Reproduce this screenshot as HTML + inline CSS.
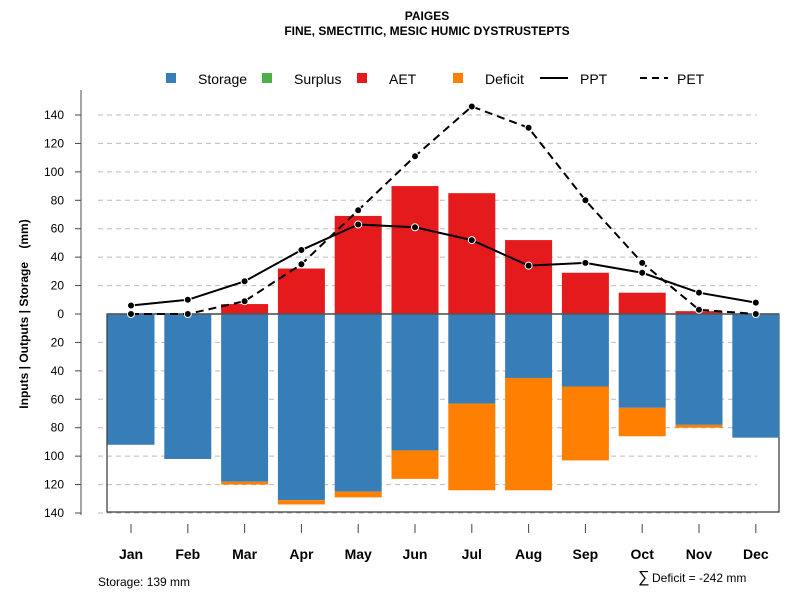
<!DOCTYPE html>
<html><head><meta charset="utf-8"><style>
body{margin:0;background:#fff;}
svg text{font-family:"Liberation Sans",Arial,sans-serif;}
</style></head><body>
<svg id="chart" width="800" height="600" xmlns="http://www.w3.org/2000/svg">
<text x="427" y="20" text-anchor="middle" font-size="12" font-weight="bold">PAIGES</text>
<text x="427" y="35" text-anchor="middle" font-size="12" font-weight="bold">FINE, SMECTITIC, MESIC HUMIC DYSTRUSTEPTS</text>
<g id="grid"></g>
<rect x="107" y="314" width="672" height="198" fill="none" stroke="#333" stroke-width="1.2"/>
<g id="bars"></g>
<line x1="107" y1="314" x2="779" y2="314" stroke="#555" stroke-width="1.5"/>
<g id="lines"></g>
<line x1="81" y1="90" x2="81" y2="515" stroke="#888" stroke-width="1.5"/>
<g id="yticks"></g>
<g id="xticks"></g>
<text transform="translate(28,314) rotate(-90)" text-anchor="middle" font-size="12" font-weight="bold" style="white-space:pre" xml:space="preserve">Inputs | Outputs | Storage    (mm)</text>
<g>
<rect x="166" y="73" width="10" height="10" fill="#377EB8"/>
<text x="198" y="84" font-size="14">Storage</text>
<rect x="262" y="73" width="10" height="10" fill="#4DAF4A"/>
<text x="294" y="84" font-size="14">Surplus</text>
<rect x="357" y="73" width="10" height="10" fill="#E41A1C"/>
<text x="389" y="84" font-size="14">AET</text>
<rect x="453" y="73" width="10" height="10" fill="#FF7F00"/>
<text x="485" y="84" font-size="14">Deficit</text>
<line x1="540" y1="78" x2="568" y2="78" stroke="#000" stroke-width="2"/>
<text x="580" y="84" font-size="14">PPT</text>
<line x1="640" y1="78" x2="668" y2="78" stroke="#000" stroke-width="2" stroke-dasharray="7,5"/>
<text x="677" y="84" font-size="14">PET</text>
</g>
<text x="98" y="586" font-size="12">Storage: 139 mm</text>
<text x="638" y="582" font-size="16">∑</text>
<text x="652" y="582" font-size="12">Deficit = -242 mm</text>
</svg>
<script>
const months=["Jan","Feb","Mar","Apr","May","Jun","Jul","Aug","Sep","Oct","Nov","Dec"];
const aet=[0,0,7,32,69,90,85,52,29,15,2,0];
const storage=[92,102,118,131,125,96,63,45,51,66,78,87];
const deficit=[0,0,2,3,4,20,61,79,52,20,2,0];
const ppt=[6,10,23,45,63,61,52,34,36,29,15,8];
const pet=[0,0,9,35,73,111,146,131,80,36,3,0];
const yTicks=[140,120,100,80,60,40,20,0,20,40,60,80,100,120,140];
const NS="http://www.w3.org/2000/svg";
function x(i){return 131+i*56.8;}
function y(v){return 314-v*1.4214;}
function mk(tag,attrs,parent){const e=document.createElementNS(NS,tag);for(const k in attrs)e.setAttribute(k,attrs[k]);document.getElementById(parent).appendChild(e);return e;}
const bw=47;
yTicks.forEach((t,k)=>{
  const v=k<7?t:-t;
  const yy=y(v);
  if(v!==0){const g=mk('line',{x1:98,x2:757,y1:yy,y2:yy,stroke:'#bbb','stroke-dasharray':'5,4'},'grid');
  
  }
  const tk=mk('line',{x1:75,x2:81,y1:yy,y2:yy,stroke:'#444'},'yticks');
  
  
  const tl=mk('text',{x:64,y:yy+4,'text-anchor':'end','font-size':12},'yticks');
  tl.textContent=t;
  
  
});
months.forEach((m,i)=>{
  const cx=x(i);
  if(aet[i]>0){const r=mk('rect',{x:cx-bw/2,y:y(aet[i]),width:bw,height:y(0)-y(aet[i]),fill:'#E41A1C'},'bars');
  
  }
  const s=mk('rect',{x:cx-bw/2,y:314,width:bw,height:y(-storage[i])-314,fill:'#377EB8'},'bars');
  
  
  if(deficit[i]>0){const d=mk('rect',{x:cx-bw/2,y:y(-storage[i]),width:bw,height:y(-storage[i]-deficit[i])-y(-storage[i]),fill:'#FF7F00'},'bars');
  
  }
  const t=mk('line',{x1:cx,x2:cx,y1:524,y2:533,stroke:'#444'},'xticks');
  
  
  const l=mk('text',{x:cx,y:559,'text-anchor':'middle','font-size':14,'font-weight':'bold'},'xticks');
  l.textContent=m;
  
  
});
const pp=mk('polyline',{points:ppt.map((v,i)=>x(i)+','+y(v)).join(' '),fill:'none',stroke:'#000','stroke-width':2},'lines');


const pe=mk('polyline',{points:pet.map((v,i)=>x(i)+','+y(v)).join(' '),fill:'none',stroke:'#000','stroke-width':2,'stroke-dasharray':'8,5'},'lines');


ppt.forEach((v,i)=>{const c=mk('circle',{cx:x(i),cy:y(v),r:3.5,fill:'#000',stroke:'#fff','stroke-width':1},'lines');

});
pet.forEach((v,i)=>{const c=mk('circle',{cx:x(i),cy:y(v),r:3.5,fill:'#000',stroke:'#fff','stroke-width':1},'lines');

});
</script>
</body></html>
